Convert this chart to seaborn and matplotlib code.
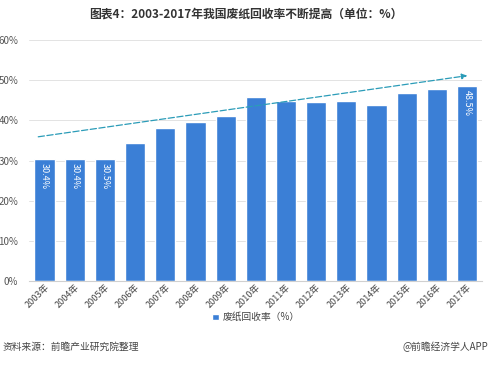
#!/usr/bin/env python3

import pandas as pd
import matplotlib.pyplot as plt
import seaborn as sns

# 废纸回收率 2003-2017
years = ['2003年', '2004年', '2005年', '2006年', '2007年', '2008年', '2009年', '2010年',
         '2011年', '2012年', '2013年', '2014年', '2015年', '2016年', '2017年']
rates = [30.4, 30.4, 30.5, 34.3, 38.1, 39.5, 41.0, 45.8, 44.8, 44.5, 44.8, 43.8, 46.8, 47.8, 48.5]
labelled = {0: '30.4%', 1: '30.4%', 2: '30.5%', 14: '48.5%'}
yticks = [0, 10, 20, 30, 40, 50, 60]

sns.set_style('white')
plt.rcParams['font.family'] = ['Noto Sans CJK SC', 'DejaVu Sans']

df = pd.DataFrame({'year': years, 'rate': rates})

fig, ax = plt.subplots(figsize=(4.91, 3.69), dpi=100)
fig.subplots_adjust(left=0.06, right=0.982, top=0.892, bottom=0.238)

sns.barplot(data=df, x='year', y='rate', color='#3b7fd6', saturation=1,
            width=0.67, ax=ax, label='废纸回收率（%）')

# values inside the top of some bars
for i, txt in labelled.items():
    ax.text(i, rates[i] - 1.0, txt, rotation=-90, ha='center', va='top',
            color='white', fontsize=6.5)

# trend arrow
ax.annotate('', xy=(14.1, 51.2), xytext=(-0.3, 35.8),
            arrowprops=dict(arrowstyle='-|>', color='#2b9cb8', lw=0.9,
                            linestyle=(0, (5, 2)), mutation_scale=8))

ax.set_ylim(0, 60)
ax.set_xlim(-0.5, 14.5)
ax.set_yticks(yticks)
ax.set_yticklabels([f'{v}%' for v in yticks], fontsize=7, color='#555555')
ax.yaxis.grid(True, color='#e3e3e3', lw=0.7)
ax.set_axisbelow(True)
ax.tick_params(axis='y', length=0, pad=8)
ax.tick_params(axis='x', length=0, pad=1)
plt.setp(ax.get_xticklabels(), rotation=45, ha='right', rotation_mode='anchor',
         fontsize=6.5, color='#444444')
ax.set_xlabel('')
ax.set_ylabel('')
for s in ['top', 'right', 'left']:
    ax.spines[s].set_visible(False)
ax.spines['bottom'].set_color('#d0d0d0')

ax.legend(loc='center', bbox_to_anchor=(0.5, -0.15), frameon=False,
          fontsize=7, handlelength=0.7, handleheight=0.7, handletextpad=0.4,
          labelcolor='#444444')

fig.text(0.5, 0.962, '图表4：2003-2017年我国废纸回收率不断提高（单位：%）',
         ha='center', va='center', fontsize=8.5, fontweight='bold', color='#333333')
fig.text(0.005, 0.06, '资料来源：前瞻产业研究院整理', ha='left', va='center',
         fontsize=7, color='#444444')
fig.text(0.995, 0.06, '@前瞻经济学人APP', ha='right', va='center',
         fontsize=7, color='#444444')

fig.savefig('out.png', dpi=100)
